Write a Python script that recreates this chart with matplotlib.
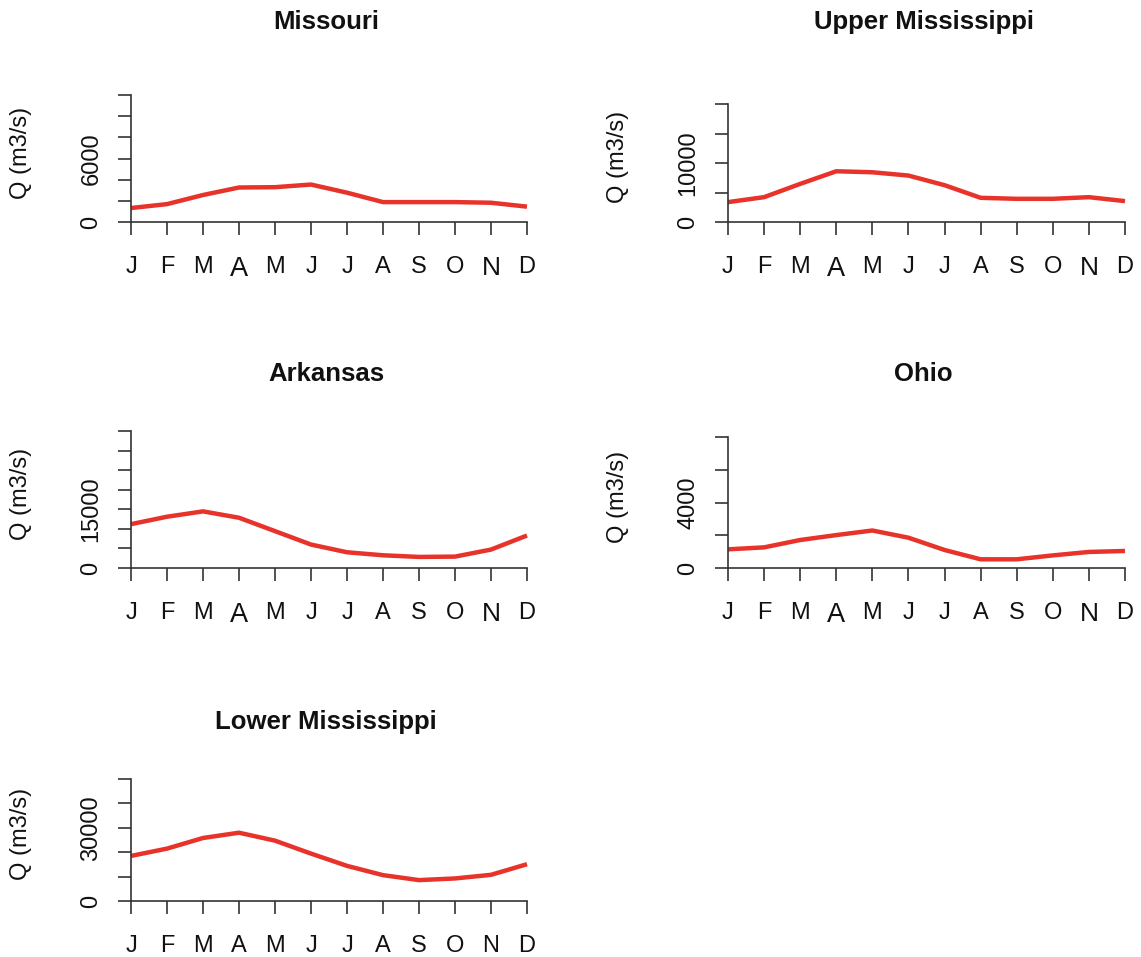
import matplotlib
matplotlib.use("Agg")
import matplotlib.pyplot as plt

plt.rcParams['font.family'] = ['Liberation Sans', 'DejaVu Sans']

months = ["J", "F", "M", "A", "M", "J", "J", "A", "S", "O", "N", "D"]
month_idx = list(range(1, 13))

missouri = [1320, 1690, 2550, 3260, 3290, 3540, 2770, 1880, 1880, 1880, 1820, 1450]
upper_miss = [3370, 4210, 6460, 8600, 8430, 7870, 6240, 4100, 3930, 3930, 4210, 3540]
arkansas = [11200, 13100, 14470, 12840, 9420, 5990, 4020, 3250, 2830, 2910, 4710, 8300]
ohio = [1140, 1260, 1710, 2010, 2290, 1850, 1100, 530, 530, 770, 980, 1040]
lower_miss = [18480, 21470, 25820, 27990, 24730, 19430, 14400, 10600, 8560, 9240, 10730, 15080]

titles = ["Missouri", "Upper Mississippi", "Arkansas", "Ohio", "Lower Mississippi"]
series = [missouri, upper_miss, arkansas, ohio, lower_miss]
tick_steps = [2000, 5000, 5000, 2000, 10000]
tick_counts = [6, 4, 7, 4, 5]          # number of intervals above zero
labeled_ticks = [6000, 10000, 15000, 4000, 30000]

W, H = 1141, 957
fig = plt.figure(figsize=(W / 100, H / 100), dpi=100)

# pixel layout: (x_left, x_right, y_top, y_zero, title_y)
layout = [
    (131, 527, 95, 222, 22),
    (728, 1125, 104, 222, 22),
    (131, 527, 431, 568, 374),
    (728, 1125, 437, 568, 374),
    (131, 527, 779, 901, 722),
]

red = "#E8332B"
axcol = "#333333"
txtcol = "#111111"

for i, (t, y, step, n, lab) in enumerate(zip(titles, series, tick_steps, tick_counts, labeled_ticks)):
    xl, xr, yt, yz, ty = layout[i]
    ax = fig.add_axes([xl / W, 1 - yz / H, (xr - xl) / W, (yz - yt) / H])
    ax.plot(month_idx, y, color=red, lw=3.2, solid_capstyle='butt', clip_on=False)
    ax.set_xlim(1, 12)
    ymax = step * n
    ax.set_ylim(0, ymax)
    for s in ("top", "right"):
        ax.spines[s].set_visible(False)
    for s in ("left", "bottom"):
        ax.spines[s].set_color(axcol)
        ax.spines[s].set_linewidth(1.2)
    ax.set_xticks(month_idx)
    ax.set_xticklabels(months)
    yt_vals = [step * k for k in range(n + 1)]
    ax.set_yticks(yt_vals)
    ax.set_yticklabels(["0" if v == 0 else (f"{v}" if v == lab else "") for v in yt_vals],
                       rotation=90, va="center")
    ax.tick_params(axis="x", direction="out", length=9.5, width=1.2, color=axcol,
                   labelsize=17, pad=15, labelcolor=txtcol)
    ax.tick_params(axis="y", direction="out", length=9.5, width=1.2, color=axcol,
                   labelsize=17, pad=11, labelcolor=txtcol)
    if i < 4:
        lbls = ax.get_xticklabels()
        lbls[3].set_fontsize(19.5)
        lbls[10].set_fontsize(19)
    fig.text((xl + xr) / 2 / W - 3 / W, 1 - ty / H, t, ha="center", va="center",
             fontsize=18.5, fontweight="bold", color=txtcol)
    col_off = 0 if xl < 600 else 597
    fig.text((21 + col_off) / W, 1 - ((yt + yz) / 2 - 6) / H, "Q (m3/s)", rotation=90,
             ha="center", va="center", fontsize=17, color=txtcol)

fig.savefig("out.png", dpi=100, facecolor="white")
